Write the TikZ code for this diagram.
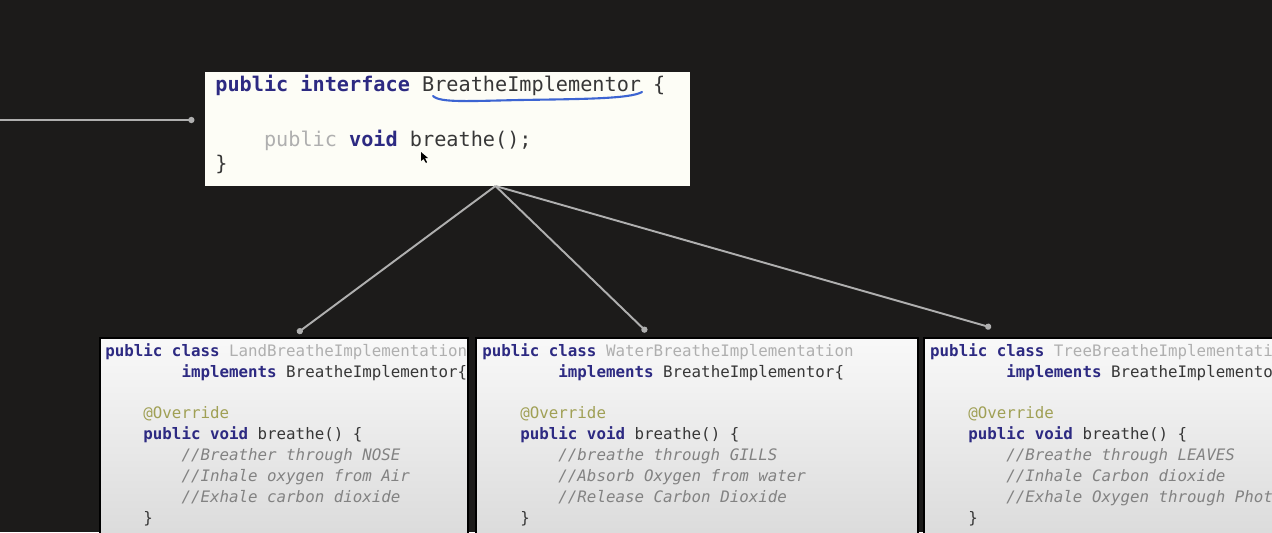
\documentclass[tikz,border=0pt]{standalone}
\usepackage{fontspec}
\setmonofont{DejaVu Sans Mono}
\usepackage{xcolor}
\usetikzlibrary{arrows.meta, positioning}

\definecolor{bgdark}{RGB}{28,27,26}
\definecolor{kwblue}{RGB}{45,42,130}
\definecolor{codegray}{RGB}{55,55,55}
\definecolor{lightname}{RGB}{175,175,175}
\definecolor{annot}{RGB}{160,160,85}
\definecolor{cmtgray}{RGB}{130,130,130}
\definecolor{linkgray}{RGB}{175,175,175}
\definecolor{scribble}{RGB}{60,100,210}
\definecolor{ifacefill}{RGB}{253,253,246}

\newcommand{\kw}[1]{\textcolor{kwblue}{\bfseries #1}}
\newcommand{\cmt}[1]{\textcolor{cmtgray}{\itshape #1}}
\newcommand{\ind}{\phantom{0000}}

\begin{document}
\begin{tikzpicture}[
    x=0.02cm, y=-0.02cm,
    ifacebox/.style={rectangle, fill=ifacefill, minimum width=9.7cm, minimum height=2.28cm, inner sep=0, outer sep=0},
    implbox/.style={rectangle, draw=black, line width=1.2pt, top color=white!95!gray, bottom color=gray!30, minimum width=8.84cm, minimum height=4.3cm, inner sep=0, outer sep=0},
    codetext/.style={anchor=north west, inner sep=0, align=left, text=codegray, font=\ttfamily\fontsize{9}{11.9}\selectfont},
    link/.style={draw=linkgray, line width=1.1pt, -{Circle[length=3.5pt]}}
]
\useasboundingbox (0,0) rectangle (1272,532);
\fill[bgdark] (0,0) rectangle (1272,532);

% interface
\node[ifacebox, anchor=north west] (iface) at (205,72) {};
\node[codetext, font=\ttfamily\fontsize{11.5}{13.6}\selectfont] (ifacecode) at (215,75)
  {\kw{public interface} BreatheImplementor \{\\[0.62cm]
   \ind\textcolor{lightname}{public} \kw{void} breathe();\\
   \}};
\draw[scribble, line width=1.2pt, line cap=round] (433,96) .. controls (440,103) and (470,101) .. (520,100)
  .. controls (580,99) and (630,99) .. (642,92);
\fill[black] (421,152) -- (421,161) -- (423.5,159) -- (426,163) -- (427,162) -- (425,158) -- (428,158) -- cycle;

% implementations
\node[implbox, minimum width=7.36cm, anchor=north west] (land) at (100,338) {};
\node[implbox, right=0.16cm of land] (water) {};
\node[implbox, right=0.12cm of water] (tree) {};

\node[codetext] (landcode) at ([shift={(5,5)}]land.north west)
  {\kw{public class} \textcolor{lightname}{LandBreatheImplementation}\\
   \ind\ind\kw{implements} BreatheImplementor\{\\
   \mbox{}\\
   \ind\textcolor{annot}{@Override}\\
   \ind\kw{public void} breathe() \{\\
   \ind\ind\cmt{//Breather through NOSE}\\
   \ind\ind\cmt{//Inhale oxygen from Air}\\
   \ind\ind\cmt{//Exhale carbon dioxide}\\
   \ind\}};
\node[codetext] (watercode) at ([shift={(6,5)}]water.north west)
  {\kw{public class} \textcolor{lightname}{WaterBreatheImplementation}\\
   \ind\ind\kw{implements} BreatheImplementor\{\\
   \mbox{}\\
   \ind\textcolor{annot}{@Override}\\
   \ind\kw{public void} breathe() \{\\
   \ind\ind\cmt{//breathe through GILLS}\\
   \ind\ind\cmt{//Absorb Oxygen from water}\\
   \ind\ind\cmt{//Release Carbon Dioxide}\\
   \ind\}};
\node[codetext] (treecode) at ([shift={(6,5)}]tree.north west)
  {\kw{public class} \textcolor{lightname}{TreeBreatheImplementation}\\
   \ind\ind\kw{implements} BreatheImplementor\{\\
   \mbox{}\\
   \ind\textcolor{annot}{@Override}\\
   \ind\kw{public void} breathe() \{\\
   \ind\ind\cmt{//Breathe through LEAVES}\\
   \ind\ind\cmt{//Inhale Carbon dioxide}\\
   \ind\ind\cmt{//Exhale Oxygen through Photosynthesis}\\
   \ind\}};

% connectors
\coordinate (src) at (0,120);
\coordinate (hub) at ([shift={(48,0)}]iface.south);
\draw[link, shorten >=6pt] (src) -- ([shift={(0,-9)}]iface.west);
\draw[link, shorten >=1pt] (hub) -- ([shift={(12,-4)}]land.north);
\draw[link, shorten >=1pt] (hub) -- ([shift={(-49,-5)}]water.north);
\draw[link, shorten >=1pt] (hub) -- ([shift={(69,-10)}]tree.north west);
\end{tikzpicture}
\end{document}
